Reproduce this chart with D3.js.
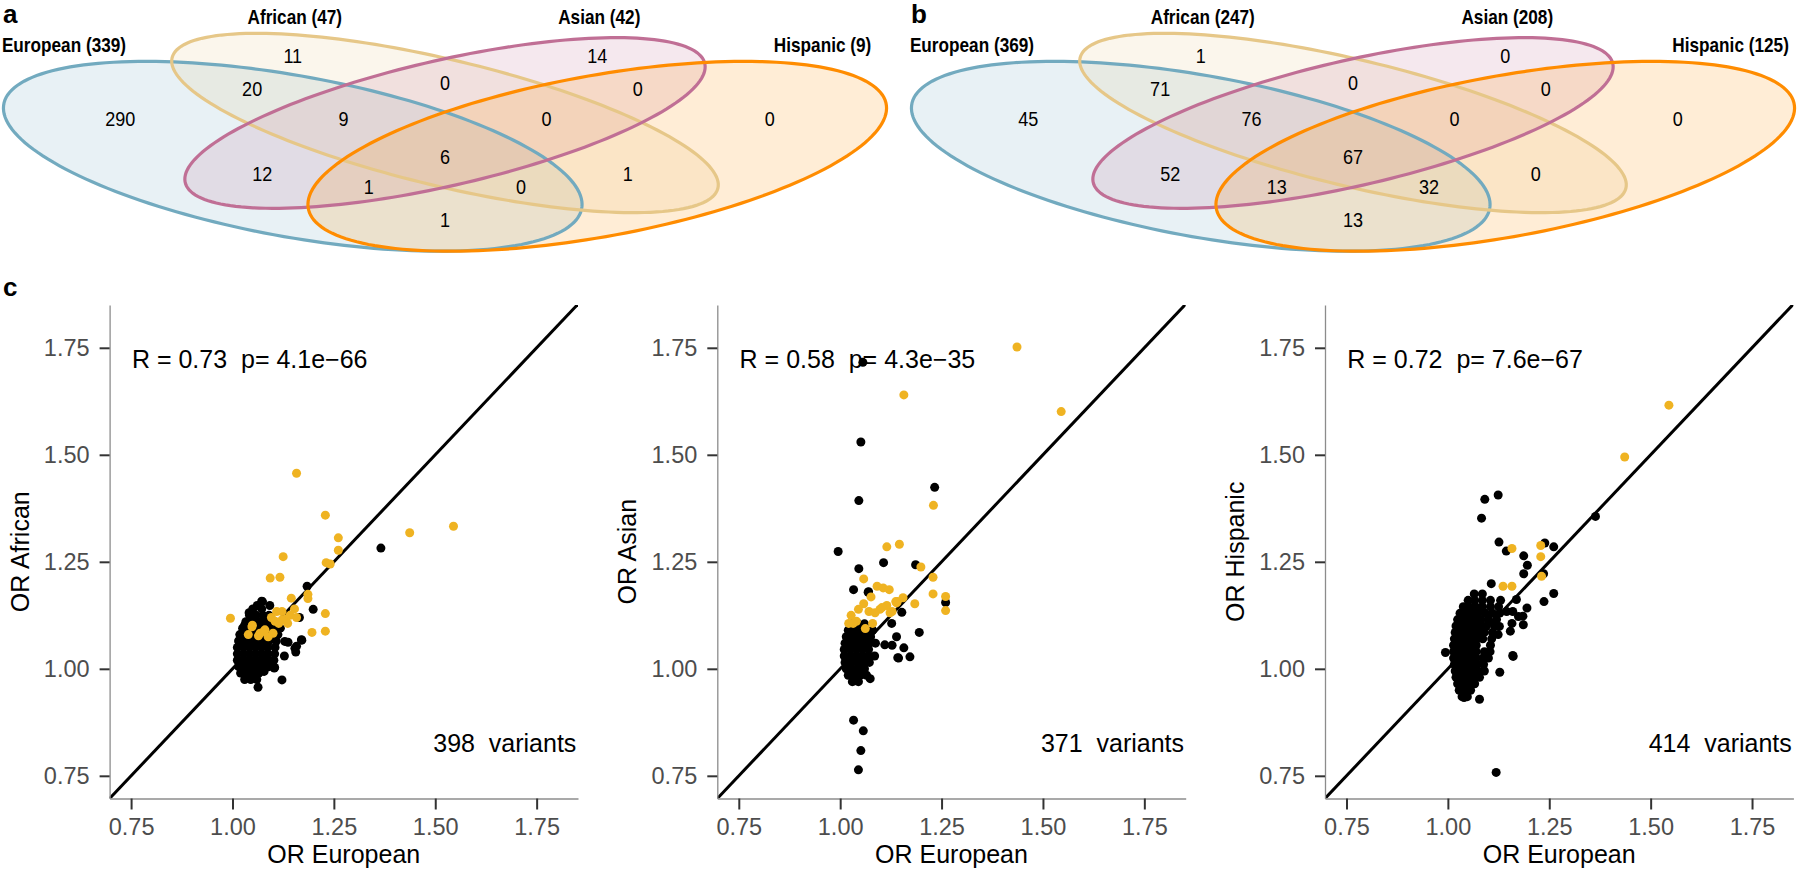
<!DOCTYPE html>
<html lang="en">
<head>
<meta charset="UTF-8"/>
<title>Venn overlaps and OR scatter</title>
<script src="https://d3js.org/d3.v7.min.js"></script>
<style>
  body { margin: 0; background: #fff; }
  svg { display: block; }
  text { font-family: 'Liberation Sans', Arial, Helvetica, sans-serif; }
  .tag { font-size: 26px; font-weight: 700; }
  .set-label { font-size: 20px; font-weight: 700; }
  .count { font-size: 21px; }
  .axis .domain { stroke: #8c8c8c; stroke-width: 1.3; }
  .axis .tick line { stroke: #333; stroke-width: 2; }
  .axis .tick text { fill: #4d4d4d; font-size: 23.5px; }
  .axis-title { font-size: 25px; }
  .note { font-size: 25px; white-space: pre; }
</style>
</head>
<body>
<svg width="1800" height="873"></svg>
<script>
// ---- venn data ----
const sets = ['European', 'African', 'Asian', 'Hispanic']
const setTotalsA = [339, 47, 42, 9]
const setTotalsB = [369, 247, 208, 125]
const regions = ['Eu', 'Af', 'As', 'Hi', 'EuAf', 'EuAs', 'EuHi', 'AfAs', 'AfHi', 'AsHi',
                 'EuAfAs', 'EuAfHi', 'EuAsHi', 'AfAsHi', 'EuAfAsHi']
const countsA = [290, 11, 14, 0, 20, 12, 1, 0, 1, 0, 9, 0, 1, 0, 6]
const countsB = [45, 1, 0, 0, 71, 52, 13, 0, 0, 0, 76, 32, 13, 0, 67]

// ---- scatter data: [OR European, OR other] ----
const afrOrange = [
  [0.995,1.118],[1.158,1.457],[1.229,1.359],[1.261,1.306],[1.261,1.277],[1.231,1.248],[1.241,1.245],
  [1.125,1.262],[1.093,1.212],[1.117,1.214],[1.145,1.165],[1.186,1.174],[1.186,1.164],[1.229,1.129],
  [1.229,1.088],[1.196,1.085],[1.437,1.318],[1.545,1.333],
  [1.039,1.080],[1.049,1.102],[1.068,1.083],[1.080,1.091],[1.100,1.083],[1.096,1.120],[1.109,1.134],
  [1.122,1.134],[1.131,1.116],[1.142,1.125],[1.153,1.140],[1.158,1.120],[1.114,1.106],[1.136,1.106],
  [1.105,1.111],[1.078,1.088],[1.064,1.077],[1.088,1.075],[1.122,1.114],[1.048,1.098]
]
const afrBlack = [
  [1.366,1.282],[1.184,1.193],[1.199,1.139],[1.165,1.120],[1.171,1.067],[1.137,1.062],[1.158,1.053],
  [1.156,1.039],[1.128,1.030],[1.122,0.974],[1.063,0.957],[1.078,0.994],[1.103,1.002],[1.046,0.982],
  [1.074,1.157],[1.061,1.148],[1.041,1.131],[1.092,1.148],[1.030,1.102],[1.129,1.064],[1.154,1.048],
  [1.170,1.068],[1.104,1.003],[1.083,1.007],[1.075,0.995],[1.072,1.158],[1.047,1.131],[1.039,1.107],
  [1.030,0.975],[1.045,0.975],[1.060,0.975],
  [1.020,0.990],[1.035,0.990],[1.050,0.990],[1.065,0.990],
  [1.015,1.005],[1.030,1.005],[1.045,1.005],[1.060,1.005],[1.075,1.005],[1.090,1.005],
  [1.012,1.020],[1.027,1.020],[1.042,1.020],[1.057,1.020],[1.072,1.020],[1.087,1.020],[1.102,1.020],
  [1.012,1.035],[1.027,1.035],[1.042,1.035],[1.057,1.035],[1.072,1.035],[1.087,1.035],[1.104,1.035],
  [1.012,1.050],[1.027,1.050],[1.042,1.050],[1.057,1.050],[1.072,1.050],[1.087,1.050],[1.105,1.050],
  [1.015,1.065],[1.030,1.065],[1.045,1.065],[1.060,1.065],[1.075,1.065],[1.090,1.065],[1.108,1.065],
  [1.018,1.080],[1.033,1.080],[1.048,1.080],[1.063,1.080],[1.078,1.080],[1.095,1.080],[1.112,1.080],
  [1.025,1.095],[1.040,1.095],[1.055,1.095],[1.070,1.095],[1.085,1.095],[1.100,1.095],[1.118,1.095],
  [1.033,1.110],[1.048,1.110],[1.063,1.110],[1.078,1.110],[1.095,1.110],
  [1.042,1.125],[1.058,1.125],[1.075,1.125],[1.090,1.125],
  [1.050,1.140],[1.072,1.140]
]
const asnOrange = [
  [1.436,1.752],[1.157,1.640],[1.545,1.601],[1.230,1.382],[1.115,1.285],[1.146,1.291],[1.199,1.238],
  [1.058,1.210],[1.229,1.214],[1.229,1.175],[1.260,1.169],[1.260,1.136],[1.184,1.152],[1.091,1.193],
  [1.106,1.189],[1.121,1.185],[1.155,1.166],[1.141,1.157],
  [1.076,1.168],[1.058,1.152],[1.045,1.139],[1.027,1.125],[1.021,1.106],[1.040,1.111],[1.062,1.094],
  [1.080,1.106],[1.098,1.139],[1.115,1.148],[1.128,1.134],[1.137,1.157],[1.071,1.134],[1.032,1.106],
  [1.086,1.131],[1.103,1.143],[1.123,1.131],[1.139,1.154]
]
const asnBlack = [
  [1.056,1.716],[1.051,1.530],[1.046,1.393],[1.233,1.424],[0.995,1.274],[1.046,1.234],[1.107,1.248],
  [1.186,1.243],[1.033,1.185],[1.069,1.179],[1.260,1.155],[1.152,1.132],[1.127,1.106],[1.195,1.085],
  [1.139,1.075],[1.157,1.049],[1.128,1.055],[1.142,1.026],[1.172,1.028],[1.074,0.977],[1.033,0.880],
  [1.057,0.855],[1.051,0.809],[1.045,0.764],[1.036,0.972],[1.110,1.056],[1.144,1.025],[1.070,1.180],
  [1.030,0.970],[1.045,0.970],
  [1.020,0.985],[1.035,0.985],[1.050,0.985],[1.065,0.985],
  [1.015,1.000],[1.030,1.000],[1.045,1.000],[1.060,1.000],
  [1.012,1.015],[1.027,1.015],[1.042,1.015],[1.057,1.015],[1.072,1.015],
  [1.010,1.030],[1.025,1.030],[1.040,1.030],[1.055,1.030],[1.070,1.030],[1.085,1.030],
  [1.010,1.045],[1.025,1.045],[1.040,1.045],[1.055,1.045],[1.070,1.045],
  [1.012,1.060],[1.027,1.060],[1.042,1.060],[1.057,1.060],[1.072,1.060],[1.087,1.060],
  [1.015,1.075],[1.030,1.075],[1.045,1.075],[1.060,1.075],[1.075,1.075],
  [1.020,1.090],[1.035,1.090],[1.050,1.090],[1.065,1.090],[1.080,1.090],
  [1.030,1.105],[1.045,1.105],[1.060,1.105]
]
const hisOrange = [
  [1.545,1.616],[1.436,1.495],[1.158,1.281],[1.229,1.288],[1.229,1.262],[1.231,1.216],
  [1.136,1.193],[1.158,1.193]
]
const hisBlack = [
  [1.124,1.406],[1.091,1.396],[1.083,1.352],[1.364,1.356],[1.126,1.296],[1.144,1.275],[1.239,1.294],
  [1.261,1.285],[1.187,1.264],[1.196,1.242],[1.187,1.222],[1.236,1.222],[1.107,1.199],[1.261,1.176],
  [1.237,1.157],[1.195,1.142],[1.169,1.162],[1.185,1.123],[1.160,1.134],[1.158,1.106],[1.127,1.099],
  [1.160,1.031],[1.128,0.992],[0.994,1.038],[1.078,0.929],[1.040,0.933],[1.119,0.758],[1.161,1.029],
  [1.124,1.080],[1.186,1.103],[1.154,1.088],[1.145,1.134],[1.174,1.122],
  [1.035,0.935],[1.048,0.935],
  [1.028,0.950],[1.042,0.950],[1.056,0.950],
  [1.024,0.965],[1.038,0.965],[1.052,0.965],[1.066,0.965],
  [1.020,0.980],[1.034,0.980],[1.048,0.980],[1.062,0.980],[1.078,0.980],
  [1.018,0.995],[1.032,0.995],[1.046,0.995],[1.060,0.995],[1.074,0.995],[1.090,0.995],
  [1.016,1.010],[1.030,1.010],[1.044,1.010],[1.058,1.010],[1.072,1.010],[1.088,1.010],
  [1.014,1.025],[1.028,1.025],[1.042,1.025],[1.056,1.025],[1.070,1.025],[1.086,1.025],[1.100,1.025],
  [1.014,1.040],[1.028,1.040],[1.042,1.040],[1.056,1.040],[1.070,1.040],[1.090,1.040],[1.104,1.040],
  [1.014,1.055],[1.028,1.055],[1.042,1.055],[1.056,1.055],[1.070,1.055],[1.105,1.055],
  [1.016,1.070],[1.030,1.070],[1.044,1.070],[1.058,1.070],[1.072,1.070],[1.086,1.070],[1.108,1.070],
  [1.018,1.085],[1.032,1.085],[1.046,1.085],[1.060,1.085],[1.074,1.085],[1.090,1.085],[1.110,1.085],
  [1.020,1.100],[1.034,1.100],[1.048,1.100],[1.062,1.100],[1.078,1.100],[1.095,1.100],[1.115,1.100],
  [1.024,1.115],[1.038,1.115],[1.052,1.115],[1.066,1.115],[1.082,1.115],[1.100,1.115],[1.120,1.115],
  [1.030,1.130],[1.044,1.130],[1.058,1.130],[1.074,1.130],[1.092,1.130],[1.110,1.130],[1.128,1.130],
  [1.038,1.145],[1.052,1.145],[1.068,1.145],[1.085,1.145],[1.105,1.145],[1.125,1.145],
  [1.050,1.160],[1.066,1.160],[1.085,1.160],[1.105,1.160],[1.130,1.160],
  [1.065,1.175],[1.085,1.175]
]
const yLabels = ['OR African', 'OR Asian', 'OR Hispanic']
const statLabels = ['R = 0.73  p= 4.1e\u221266', 'R = 0.58  p= 4.3e\u221235', 'R = 0.72  p= 7.6e\u221267']
const variantCounts = [398, 371, 414]
const orTicks = [0.75, 1.00, 1.25, 1.50, 1.75]

const svg = d3.select('svg')
svg.append('rect').attr('width', 1800).attr('height', 873).attr('fill', '#fff')

// ---- venn layout (npc units, VennDiagram style quad ellipses) ----
const ellipses = [
  { cx: 0.35, cy: 0.47, a: 0.35, b: 0.20, rot: 135, color: '#72AABF' },
  { cx: 0.50, cy: 0.57, a: 0.35, b: 0.15, rot: 135, color: '#E6C788' },
  { cx: 0.50, cy: 0.57, a: 0.33, b: 0.15, rot: 45,  color: '#C06F95' },
  { cx: 0.65, cy: 0.47, a: 0.35, b: 0.20, rot: 45,  color: '#FF8C00' }
]
const regionPos = {
  Eu: [0.18, 0.585], Af: [0.35, 0.774], As: [0.65, 0.774], Hi: [0.82, 0.585],
  EuAf: [0.31, 0.675], EuAs: [0.32, 0.42], EuHi: [0.5, 0.279], AfAs: [0.5, 0.693],
  AfHi: [0.68, 0.42], AsHi: [0.69, 0.675], EuAfAs: [0.40, 0.585], EuAfHi: [0.575, 0.378],
  EuAsHi: [0.425, 0.378], AfAsHi: [0.60, 0.585], EuAfAsHi: [0.5, 0.471]
}
const labelPos = [[0.1246, 0.783], [0.352, 0.867], [0.652, 0.867], [0.872, 0.783]]
// the figure uses a narrow face; squeeze Liberation Sans to match
const narrow = 0.86

function drawVenn(offset, totals, counts, tag) {
  const g = svg.append('g').attr('class', 'venn').attr('transform', `translate(${offset}, 0)`)
  const vx = d3.scaleLinear().domain([0, 1]).range([-62.5, 952.5])
  const vy = d3.scaleLinear().domain([0, 1]).range([312.8, -20.2])
  const angles = d3.range(0, 360, 2).map(d => d * Math.PI / 180)
  const line = d3.line().x(p => vx(p[0])).y(p => vy(p[1])).curve(d3.curveLinearClosed)
  const pathOf = e => {
    const r = e.rot * Math.PI / 180
    return line(angles.map(t => [
      e.cx + e.a * Math.cos(t) * Math.cos(r) - e.b * Math.sin(t) * Math.sin(r),
      e.cy + e.a * Math.cos(t) * Math.sin(r) + e.b * Math.sin(t) * Math.cos(r)
    ]))
  }
  g.selectAll('path.fill').data(ellipses).enter().append('path')
    .attr('class', 'fill')
    .attr('d', pathOf)
    .attr('fill', e => e.color)
    .attr('fill-opacity', 0.16)
  g.selectAll('path.edge').data(ellipses).enter().append('path')
    .attr('class', 'edge')
    .attr('d', pathOf)
    .attr('fill', 'none')
    .attr('stroke', e => e.color)
    .attr('stroke-width', 3.2)

  g.selectAll('text.count').data(regions).enter().append('text')
    .attr('class', 'count')
    .attr('transform', r => `translate(${vx(regionPos[r][0])}, ${vy(regionPos[r][1])}) scale(${narrow}, 1)`)
    .attr('dy', '0.36em')
    .attr('text-anchor', 'middle')
    .text((r, i) => counts[i])

  g.selectAll('text.set-label').data(sets).enter().append('text')
    .attr('class', 'set-label')
    .attr('transform', (s, i) => `translate(${vx(labelPos[i][0])}, ${vy(labelPos[i][1])}) scale(${narrow}, 1)`)
    .attr('text-anchor', 'middle')
    .text((s, i) => `${s} (${totals[i]})`)

  svg.append('text').attr('class', 'tag').attr('x', offset + 3).attr('y', 23).text(tag)
}

drawVenn(0, setTotalsA, countsA, 'a')
drawVenn(908, setTotalsB, countsB, 'b')

// ---- scatter panels ----
const pw = 468.4, ph = 493.5, panelTop = 305
const scatter = [
  { black: afrBlack, orange: afrOrange },
  { black: asnBlack, orange: asnOrange },
  { black: hisBlack, orange: hisOrange }
]

svg.append('text').attr('class', 'tag').attr('x', 3).attr('y', 296).text('c')

scatter.forEach((p, i) => {
  const left = 109.6 + i * 607.7
  const chart = svg.append('g').attr('transform', `translate(${left}, ${panelTop})`)

  const xScale = d3.scaleLinear().domain([0.697, 1.852]).range([0, pw])
  const yScale = d3.scaleLinear().domain([0.697, 1.850]).range([ph, 0])

  chart.append('clipPath').attr('id', `clip${i}`)
    .append('rect').attr('width', pw).attr('height', ph)

  const body = chart.append('g').attr('clip-path', `url(#clip${i})`)

  body.append('line')
    .attr('x1', xScale(0.697)).attr('y1', yScale(0.697))
    .attr('x2', xScale(1.852)).attr('y2', yScale(1.852))
    .attr('stroke', '#000').attr('stroke-width', 3)

  body.selectAll('circle.blk').data(p.black).enter().append('circle')
    .attr('class', 'blk')
    .attr('cx', d => xScale(d[0])).attr('cy', d => yScale(d[1]))
    .attr('r', 4.5).attr('fill', '#000')

  body.selectAll('circle.org').data(p.orange).enter().append('circle')
    .attr('class', 'org')
    .attr('cx', d => xScale(d[0])).attr('cy', d => yScale(d[1]))
    .attr('r', 4.5).attr('fill', '#EFB322')

  chart.append('g')
    .attr('class', 'axis')
    .call(d3.axisLeft(yScale).tickValues(orTicks).tickFormat(d3.format('.2f'))
      .tickSize(10).tickSizeOuter(0).tickPadding(10))

  chart.append('g')
    .attr('class', 'axis')
    .attr('transform', `translate(0, ${ph})`)
    .call(d3.axisBottom(xScale).tickValues(orTicks).tickFormat(d3.format('.2f'))
      .tickSize(11).tickSizeOuter(0).tickPadding(9))

  chart.selectAll('.axis').attr('font-family', null).attr('font-size', null)

  chart.append('text')
    .attr('class', 'axis-title')
    .attr('transform', `translate(-81, ${ph / 2}) rotate(-90)`)
    .attr('text-anchor', 'middle')
    .text(yLabels[i])

  chart.append('text')
    .attr('class', 'axis-title')
    .attr('x', pw / 2)
    .attr('y', ph + 64)
    .attr('text-anchor', 'middle')
    .text('OR European')

  chart.append('text')
    .attr('class', 'note')
    .attr('x', xScale(0.752))
    .attr('y', yScale(1.725) + 9)
    .text(statLabels[i])

  chart.append('text')
    .attr('class', 'note')
    .attr('x', xScale(1.848))
    .attr('y', yScale(0.826) + 9)
    .attr('text-anchor', 'end')
    .text(`${variantCounts[i]}  variants`)
})
</script>
</body>
</html>
